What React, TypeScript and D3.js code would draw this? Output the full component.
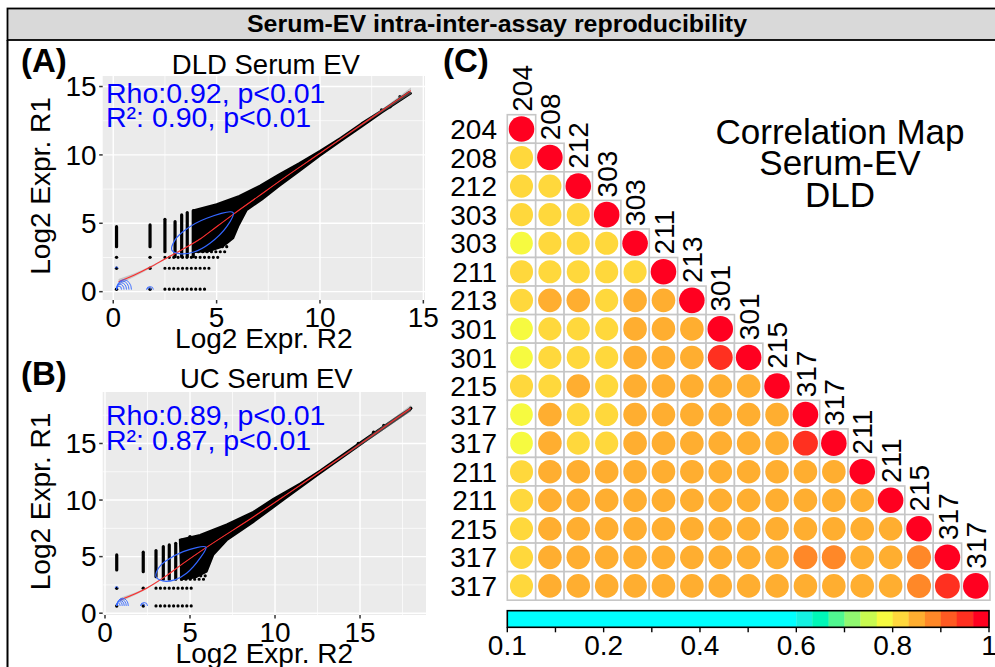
import React from "react";
import * as d3 from "d3";

const FONT = "'Liberation Sans', Arial, Helvetica, sans-serif";

const figureTitle = "Serum-EV intra-inter-assay reproducibility";

// ---------- panel A : DLD serum EV ----------
const titleA = "DLD Serum EV";
const statsA = ["Rho:0.92, p<0.01", "R²: 0.90, p<0.01"];
const xTicksA = [0, 5, 10, 15];
const yTicksA = [0, 5, 10, 15];
const xMinorA = [2.5, 7.5, 12.5];
const yMinorA = [2.5, 7.5, 12.5];
// dense part of the scatter (outline of the black mass)
const cloudA: [number, number][] = [
  [3.9, 5.95], [5.0, 6.4], [6.1, 7.0], [7.1, 7.75], [8.0, 8.55], [9.0, 9.4],
  [10.0, 10.3], [11.0, 11.25], [12.0, 12.3], [13.0, 13.25], [14.3, 14.6],
  [14.4, 14.5], [13.0, 13.1], [12.0, 12.05], [11.0, 11.0], [10.0, 9.95],
  [9.0, 8.8], [8.0, 7.7], [7.2, 6.75], [6.45, 5.95], [6.05, 4.8], [5.8, 3.9],
  [5.3, 3.3], [4.6, 2.95], [3.9, 2.9],
];
// stacked columns of points: [x, yLow, yHigh]
const columnsA = [
  [0.16, 3.29, 4.75], [1.78, 3.29, 4.88], [2.5, 2.92, 5.29], [2.99, 2.56, 5.12],
  [3.31, 2.56, 5.61], [3.58, 2.56, 5.78], [3.87, 2.56, 5.92],
];
// rows of points: [y, xStart, xEnd]
const rowsA = [
  [2.51, 2.5, 5.16], [1.71, 2.5, 4.68], [0.18, 2.5, 4.48], [2.92, 3.9, 5.5], [3.29, 4.0, 5.7],
];
const pointsA = [
  [0.16, 2.51], [1.78, 2.51], [0.16, 1.71], [1.78, 1.71], [1.78, 0.18], [0.16, 0.18],
  [11.53, 11.7], [12.26, 12.43], [12.98, 13.28], [13.39, 13.52], [13.87, 14.25], [14.27, 14.5],
];
// loess fit: [x, y, half-width of the band]
const smoothA = [
  [0.26, 0.73, 0.2], [1.0, 1.2, 0.12], [1.8, 1.8, 0.08], [2.5, 2.39, 0.06], [3.3, 3.05, 0.04],
  [4.2, 3.85, 0.03], [5.0, 4.75, 0.03], [5.8, 5.65, 0.03], [7.0, 6.95, 0.03], [8.2, 8.25, 0.03],
  [10, 10.12, 0.04], [12, 12.2, 0.08], [13.3, 13.55, 0.14], [14.4, 14.7, 0.22],
];
const contourA: [number, number][] = [
  [2.83, 3.05], [3.0, 3.8], [3.48, 4.51], [4.52, 5.37], [5.8, 5.78], [5.49, 4.75],
  [4.68, 3.54], [3.9, 2.9], [3.2, 2.78],
];
// small density arcs: [x, y, rx, ry]
const fansA = [
  [0.16, 0.15, 0.12, 0.25], [0.16, 0.15, 0.18, 0.38], [0.16, 0.15, 0.24, 0.5],
  [0.16, 0.15, 0.3, 0.62], [0.16, 0.15, 0.36, 0.72], [1.62, 0.15, 0.16, 0.22],
  [1.62, 0.15, 0.1, 0.14], [0.1, 1.71, 0.06, 0.1],
];

// ---------- panel B : UC serum EV ----------
const titleB = "UC Serum EV";
const statsB = ["Rho:0.89, p<0.01", "R²: 0.87, p<0.01"];
const xTicksB = [0, 5, 10, 15];
const yTicksB = [0, 5, 10, 15];
const xMinorB = [2.5, 7.5, 12.5, 17.5];
const yMinorB = [2.5, 7.5, 12.5, 17.5];
const cloudB: [number, number][] = [
  [4.4, 6.5], [5.59, 6.92], [7.16, 7.85], [8.72, 8.95], [9.9, 10.1], [11.47, 11.45],
  [12.65, 12.6], [14.2, 14.25], [15.4, 15.5], [17.2, 17.35], [18.0, 18.15],
  [17.95, 17.95], [15.4, 15.3], [12.45, 12.15], [10.49, 10.0], [8.72, 8.05],
  [7.16, 6.45], [6.37, 5.15], [5.98, 3.67], [5.3, 3.15], [4.5, 3.0],
];
const columnsB = [
  [0.69, 3.82, 5.15], [2.25, 3.67, 5.39], [3.0, 3.23, 5.53], [3.43, 3.0, 5.88],
  [3.78, 3.0, 6.03], [4.16, 3.0, 6.18], [4.5, 3.0, 6.47],
];
const rowsB = [
  [2.21, 3.0, 5.3], [0.64, 3.0, 5.2], [3.0, 4.5, 6.0], [3.3, 4.6, 6.0],
];
const pointsB = [
  [0.69, 2.21], [2.25, 2.21], [0.69, 0.64], [2.25, 0.64], [5.0, 6.77],
  [14.9, 15.0], [15.8, 16.0], [16.4, 16.6], [17.98, 18.11],
];
const smoothB = [
  [0.88, 1.17, 0.18], [2.45, 2.21, 0.08], [3.53, 3.23, 0.05], [4.6, 4.4, 0.03],
  [5.9, 5.75, 0.03], [8.72, 8.5, 0.03], [10.5, 10.3, 0.04], [12.45, 12.3, 0.06],
  [14.2, 14.1, 0.1], [16, 16.0, 0.18], [17.98, 18.11, 0.3],
];
const contourB: [number, number][] = [
  [3.0, 3.23], [3.15, 4.0], [3.53, 4.56], [4.6, 5.44], [5.94, 5.83], [5.59, 4.86],
  [4.8, 3.53], [4.1, 2.95], [3.4, 2.85],
];
const fansB = [
  [0.69, 0.64, 0.1, 0.25], [0.69, 0.64, 0.16, 0.37], [0.69, 0.64, 0.22, 0.48],
  [0.69, 0.64, 0.28, 0.58], [0.69, 0.64, 0.34, 0.68], [2.1, 0.64, 0.12, 0.2],
  [2.1, 0.64, 0.2, 0.3], [0.6, 2.21, 0.08, 0.15],
];

// ---------- panel C : correlation map ----------
const samples = ["204", "208", "212", "303", "303", "211", "213", "301", "301", "215", "317", "317", "211", "211", "215", "317", "317"];
const corrRows = [
  [1],
  [0.815, 1],
  [0.815, 0.815, 1],
  [0.815, 0.815, 0.815, 1],
  [0.785, 0.815, 0.815, 0.815, 1],
  [0.815, 0.815, 0.815, 0.815, 0.815, 1],
  [0.815, 0.85, 0.85, 0.815, 0.85, 0.85, 1],
  [0.785, 0.815, 0.815, 0.815, 0.85, 0.85, 0.85, 1],
  [0.785, 0.815, 0.815, 0.815, 0.85, 0.85, 0.85, 0.95, 1],
  [0.815, 0.815, 0.85, 0.815, 0.85, 0.85, 0.85, 0.85, 0.85, 1],
  [0.785, 0.85, 0.815, 0.815, 0.85, 0.85, 0.85, 0.85, 0.85, 0.85, 1],
  [0.785, 0.85, 0.815, 0.815, 0.85, 0.85, 0.85, 0.85, 0.85, 0.85, 0.95, 1],
  [0.815, 0.85, 0.85, 0.85, 0.85, 0.85, 0.85, 0.85, 0.85, 0.85, 0.85, 0.85, 1],
  [0.815, 0.85, 0.85, 0.85, 0.85, 0.85, 0.85, 0.85, 0.85, 0.85, 0.85, 0.85, 0.85, 1],
  [0.815, 0.85, 0.85, 0.85, 0.85, 0.85, 0.85, 0.85, 0.85, 0.85, 0.85, 0.85, 0.85, 0.85, 1],
  [0.815, 0.85, 0.85, 0.85, 0.85, 0.85, 0.85, 0.85, 0.85, 0.85, 0.88, 0.88, 0.85, 0.85, 0.88, 1],
  [0.815, 0.85, 0.85, 0.85, 0.85, 0.85, 0.85, 0.85, 0.85, 0.85, 0.85, 0.85, 0.85, 0.85, 0.88, 0.95, 1],
];
const mapTitle = ["Correlation Map", "Serum-EV", "DLD"];
const binEdges = [0, 0.6, 0.633, 0.667, 0.7, 0.733, 0.767, 0.8, 0.833, 0.867, 0.9, 0.933, 0.967, 1];
const binColors = [
  "#00FFFF", "#14F2E2", "#00F8B8", "#50F890", "#90F870", "#C8FA50", "#F6FA40",
  "#FFD83C", "#FFAE30", "#FF8828", "#FF5A22", "#FF3020", "#FF0020",
];
const barTicks = [0, 0.1, 0.2, 0.3, 0.4, 0.5, 0.6, 0.7, 0.8, 0.9, 1];
const barLabelValues = [0, 0.2, 0.4, 0.6, 0.8, 1];
const barLabels = ["0.1", "0.2", "0.4", "0.6", "0.8", "1"];

type Box = { x: number; y: number; w: number; h: number };

function Scatter(props: {
  id: string; box: Box; xDomain: [number, number]; yDomain: [number, number];
  xTicks: number[]; yTicks: number[]; xMinor: number[]; yMinor: number[];
  tag: string; tagY: number; title: string; titleY: number; stats: string[]; statsY: number[];
  cloud: [number, number][]; columns: number[][]; rows: number[][]; points: number[][];
  smooth: number[][]; contour: [number, number][]; fans: number[][];
}) {
  const { box } = props;
  const x = d3.scaleLinear().domain(props.xDomain).range([box.x, box.x + box.w]);
  const y = d3.scaleLinear().domain(props.yDomain).range([box.y + box.h, box.y]);
  const bottom = box.y + box.h;

  const cloudPath = d3.line<[number, number]>().x((d) => x(d[0])).y((d) => y(d[1])).curve(d3.curveLinearClosed)(props.cloud) || "";
  const contourPath = d3.line<[number, number]>().x((d) => x(d[0])).y((d) => y(d[1])).curve(d3.curveCatmullRomClosed.alpha(0.5))(props.contour) || "";
  const smoothLine = d3.line<number[]>().x((d) => x(d[0])).y((d) => y(d[1])).curve(d3.curveMonotoneX)(props.smooth) || "";
  const band = d3.area<number[]>().x((d) => x(d[0])).y0((d) => y(d[1] - d[2])).y1((d) => y(d[1] + d[2])).curve(d3.curveMonotoneX)(props.smooth) || "";

  return (
    <g>
      <defs>
        <clipPath id={props.id}>
          <rect x={box.x} y={box.y} width={box.w} height={box.h} />
        </clipPath>
      </defs>
      <rect x={box.x} y={box.y} width={box.w} height={box.h} fill="#EBEBEB" />
      {props.xMinor.map((t) => (
        <line key={"xm" + t} x1={x(t)} x2={x(t)} y1={box.y} y2={bottom} stroke="#fff" strokeWidth={0.7} />
      ))}
      {props.yMinor.map((t) => (
        <line key={"ym" + t} x1={box.x} x2={box.x + box.w} y1={y(t)} y2={y(t)} stroke="#fff" strokeWidth={0.7} />
      ))}
      {props.xTicks.map((t) => (
        <line key={"xg" + t} x1={x(t)} x2={x(t)} y1={box.y} y2={bottom} stroke="#fff" strokeWidth={1.4} />
      ))}
      {props.yTicks.map((t) => (
        <line key={"yg" + t} x1={box.x} x2={box.x + box.w} y1={y(t)} y2={y(t)} stroke="#fff" strokeWidth={1.4} />
      ))}
      <g clipPath={`url(#${props.id})`}>
        <path d={cloudPath} fill="#000" stroke="#000" strokeWidth={2} strokeLinejoin="round" />
        {props.columns.map((c, i) => (
          <line key={"c" + i} x1={x(c[0])} x2={x(c[0])} y1={y(c[1])} y2={y(c[2])} stroke="#000" strokeWidth={3.2} strokeLinecap="round" />
        ))}
        {props.rows.map((r, i) => (
          <line key={"r" + i} x1={x(r[1])} x2={x(r[2])} y1={y(r[0])} y2={y(r[0])} stroke="#000" strokeWidth={3.2} strokeLinecap="round" strokeDasharray="0 4.4" />
        ))}
        {props.points.map((p, i) => (
          <circle key={"p" + i} cx={x(p[0])} cy={y(p[1])} r={1.7} fill="#000" />
        ))}
        <path d={band} fill="#999" opacity={0.45} />
        <path d={smoothLine} fill="none" stroke="#FF2a2a" strokeWidth={1.1} />
        <path d={contourPath} fill="none" stroke="#3366FF" strokeWidth={1.2} />
        {props.fans.map((f, i) => {
          const x0 = x(f[0]);
          const x1 = x(f[0] + 2 * f[2]);
          const rx = (x1 - x0) / 2;
          const ry = y(0) - y(f[3]);
          return (
            <path key={"f" + i} d={`M${x0},${y(f[1])} A${rx},${ry} 0 0 1 ${x1},${y(f[1])}`} fill="none" stroke="#3366FF" strokeWidth={0.9} />
          );
        })}
      </g>
      {props.xTicks.map((t) => (
        <g key={"xt" + t}>
          <line x1={x(t)} x2={x(t)} y1={bottom} y2={bottom + 3.5} stroke="#333" strokeWidth={1.5} />
          <text x={x(t)} y={bottom + 26.7} textAnchor="middle" fontSize={28}>{t}</text>
        </g>
      ))}
      {props.yTicks.map((t) => (
        <g key={"yt" + t}>
          <line x1={box.x - 3.5} x2={box.x} y1={y(t)} y2={y(t)} stroke="#333" strokeWidth={1.5} />
          <text x={box.x - 6} y={y(t)} dy="0.35em" textAnchor="end" fontSize={28}>{t}</text>
        </g>
      ))}
      <text x={box.x + box.w / 2} y={bottom + 48.3} textAnchor="middle" fontSize={28}>Log2 Expr. R2</text>
      <text transform={`translate(50,${box.y + box.h / 2 - 2}) rotate(-90)`} textAnchor="middle" fontSize={28}>Log2 Expr. R1</text>
      <text x={box.x + box.w / 2 + 2} y={props.titleY} textAnchor="middle" fontSize={27.5}>{props.title}</text>
      <text x={21} y={props.tagY} fontSize={33} fontWeight="bold">{props.tag}</text>
      {props.stats.map((s, i) => (
        <text key={"s" + i} x={106} y={props.statsY[i]} fontSize={28.5} fill="#0000FF">{s}</text>
      ))}
    </g>
  );
}

function CorrMap() {
  const n = samples.length;
  const idx = d3.range(n);
  const xb = d3.scaleBand<number>().domain(idx).range([507.3, 990]);
  const yb = d3.scaleBand<number>().domain(idx).range([114.7, 600.2]);
  const color = d3.scaleThreshold<number, string>().domain(binEdges.slice(1, -1)).range(binColors);
  const radius = d3.scaleSqrt().domain([0, 1]).range([0, 12.8]);
  const bar = d3.scaleLinear().domain([0, 1]).range([507.3, 989]);
  const barTop = 610.7;
  const barBottom = 627.3;

  return (
    <g>
      <text x={443} y={72} fontSize={33} fontWeight="bold">(C)</text>
      {mapTitle.map((t, i) => (
        <text key={t} x={840} y={144 + i * 31.3} textAnchor="middle" fontSize={35}>{t}</text>
      ))}
      {corrRows.map((row, i) =>
        row.map((v, j) => (
          <g key={i + "-" + j}>
            <rect x={xb(j)} y={yb(i)} width={xb.bandwidth()} height={yb.bandwidth()} fill="#fff" stroke="#C6C6C6" strokeWidth={1.6} />
            <circle cx={(xb(j) as number) + xb.bandwidth() / 2} cy={(yb(i) as number) + yb.bandwidth() / 2} r={radius(v)} fill={color(v)} />
          </g>
        ))
      )}
      {samples.map((s, i) => (
        <text key={"rl" + i} x={497} y={(yb(i) as number) + yb.bandwidth() / 2} dy="0.36em" textAnchor="end" fontSize={28}>{s}</text>
      ))}
      {samples.map((s, j) => (
        <text key={"cl" + j} transform={`translate(${(xb(j) as number) + xb.bandwidth() / 2},${(yb(j) as number) - 3}) rotate(-90)`} dy="0.36em" fontSize={28}>{s}</text>
      ))}
      {binColors.map((c, i) => (
        <rect key={"b" + i} x={bar(binEdges[i])} y={barTop} width={bar(binEdges[i + 1]) - bar(binEdges[i]) + 0.3} height={barBottom - barTop} fill={c} />
      ))}
      <rect x={bar(0)} y={barTop} width={bar(1) - bar(0)} height={barBottom - barTop} fill="none" stroke="#000" strokeWidth={1.6} />
      {barTicks.map((t) => (
        <line key={"bt" + t} x1={bar(t)} x2={bar(t)} y1={barBottom} y2={barBottom + 5} stroke="#000" strokeWidth={1.4} />
      ))}
      {barLabelValues.map((t, i) => (
        <text key={"bl" + t} x={bar(t)} y={655} textAnchor="middle" fontSize={28}>{barLabels[i]}</text>
      ))}
    </g>
  );
}

export default function App() {
  return (
    <svg width={995} height={667} fontFamily={FONT} style={{ position: "absolute", left: 0, top: 0, background: "#fff" }}>
      <rect width={995} height={667} fill="#fff" />
      <rect x={7.5} y={8.5} width={1000} height={31.5} fill="#D9D9D9" stroke="#000" strokeWidth={1.8} />
      <text x={497} y={31.5} textAnchor="middle" fontSize={23} fontWeight="bold" textLength={500} lengthAdjust="spacingAndGlyphs">{figureTitle}</text>
      <line x1={7.5} x2={7.5} y1={40} y2={667} stroke="#000" strokeWidth={2} />
      <Scatter
        id="clipA" box={{ x: 102.7, y: 76, w: 322.3, h: 224 }} xDomain={[-0.51, 15.08]} yDomain={[-0.61, 15.77]}
        xTicks={xTicksA} yTicks={yTicksA} xMinor={xMinorA} yMinor={yMinorA}
        tag="(A)" tagY={71.7} title={titleA} titleY={74.3} stats={statsA} statsY={[103.3, 127.3]}
        cloud={cloudA} columns={columnsA} rows={rowsA} points={pointsA} smooth={smoothA} contour={contourA} fans={fansA}
      />
      <Scatter
        id="clipB" box={{ x: 102.7, y: 392, w: 323.3, h: 223 }} xDomain={[-0.135, 18.88]} yDomain={[-0.16, 19.55]}
        xTicks={xTicksB} yTicks={yTicksB} xMinor={xMinorB} yMinor={yMinorB}
        tag="(B)" tagY={385} title={titleB} titleY={388.3} stats={statsB} statsY={[425, 450]}
        cloud={cloudB} columns={columnsB} rows={rowsB} points={pointsB} smooth={smoothB} contour={contourB} fans={fansB}
      />
      <CorrMap />
    </svg>
  );
}
